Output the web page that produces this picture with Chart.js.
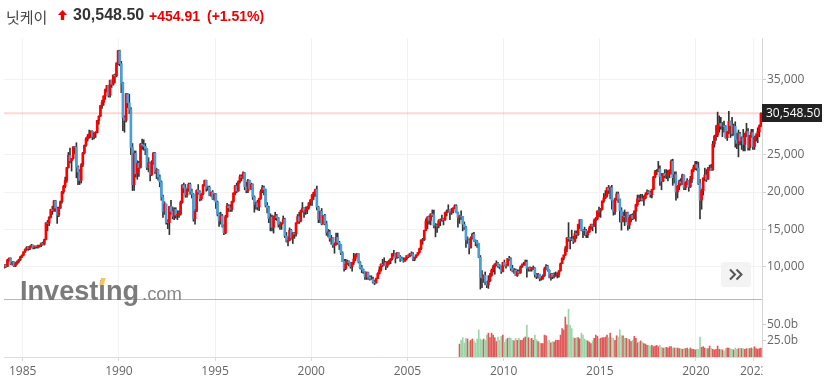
<!DOCTYPE html>
<html><head><meta charset="utf-8">
<script src="https://cdn.jsdelivr.net/npm/chart.js@4.4.1/dist/chart.umd.min.js"></script>
<style>
html,body{margin:0;padding:0;background:#fff;}
#wrap{position:relative;width:829px;height:387px;overflow:hidden;}
#c{position:absolute;left:0;top:0;}
.h{position:absolute;line-height:1;white-space:nowrap;}
</style></head>
<body>
<div id="wrap">
<canvas id="c" width="829" height="387"></canvas>
<div class="h" style="left:6px;top:6px;font:15px 'Noto Sans CJK KR',sans-serif;color:#444">닛케이</div>
<svg style="position:absolute;left:58px;top:10px" width="9" height="10"><polygon points="4.5,0 9,5 6.2,5 6.2,10 2.8,10 2.8,5 0,5" fill="#ee0000"/></svg>
<div class="h" style="left:73px;top:6px;font:bold 16px 'Liberation Sans',Arial,sans-serif;color:#333">30,548.50</div>
<div class="h" style="left:149px;top:8px;font:bold 14px 'Liberation Sans',Arial,sans-serif;color:#e00">+454.91</div>
<div class="h" style="left:207px;top:8px;font:bold 14px 'Liberation Sans',Arial,sans-serif;color:#e00">(+1.51%)</div>
</div>
<script>
// ---- data (monthly, Jan 1984 .. May 2023) ----
const startYear = 1984;
const firstOpen = 9890;
const closes = [
10200,10050,10900,11100,10400,10600,10100,10450,10700,10900,11300,11540,
11990,12320,12580,12430,12680,12880,12600,12740,12700,12750,12830,13110,
13020,13640,15860,15830,16600,17650,17510,18820,17850,16900,17850,18700,
20030,20760,21570,23270,24900,24180,24490,26030,26010,23330,22690,21560,
23620,25240,26260,27100,27420,27770,28100,27370,27920,27990,29580,30160,
31580,32000,32840,33710,34270,32950,34950,34430,35640,35550,37270,38920,
37190,34590,29980,29590,33130,31940,31040,25980,20980,25190,22450,23850,
23290,26410,26290,26110,25790,23290,23900,22340,23920,25220,22690,22980,
22020,21340,19350,17390,18350,15950,15910,18060,17400,16770,17680,16920,
17020,17040,18590,20920,20550,19590,20380,21030,20110,19700,16410,17420,
20230,20000,19110,19730,20970,21550,20450,20630,19560,19990,19080,19720,
18650,17050,16140,16810,15440,14520,16680,18120,17910,17660,18740,19870,
20810,20130,21410,22040,21960,22530,20690,20170,21560,20470,21020,19360,
18330,18560,18000,19150,20070,20610,20330,18230,17890,16460,16640,15260,
16630,16830,16530,15640,15670,15830,16380,14110,13410,13560,14880,13840,
14500,14370,15840,16700,16110,17530,17860,17440,17610,17940,18560,18930,
19540,19960,20340,17970,16330,17410,15730,16860,15750,14540,14650,13790,
13840,12880,13000,13930,13260,12970,11860,10710,9770,10370,10700,10540,
10000,10590,11030,11490,11760,10620,9880,9620,9380,8640,9220,8580,
8340,8360,7970,7830,8420,9080,9560,10340,10220,10560,10100,10680,
10780,11040,11720,11760,11240,11860,11330,11080,10820,10770,11070,11490,
11390,11740,11670,11010,11280,11580,11900,12410,13570,13610,14870,16110,
16650,16210,17060,16910,15470,15510,15460,16140,16130,16400,16270,17230,
17380,17600,17290,17400,17880,18140,17250,16570,16790,16740,15680,15310,
13590,13600,12530,13850,14340,13480,13380,13070,11260,8580,8510,8860,
7990,7570,8110,8830,9520,9960,10360,10490,10130,10030,9350,10550,
10200,10130,11090,11060,9770,9380,9540,8820,9370,9200,9940,10230,
10240,10620,9760,9850,9690,9820,9830,8960,8700,8990,8430,8460,
8800,9720,10080,9520,8540,9010,8700,8840,8870,8930,9450,10400,
11140,11560,12400,13860,13770,13680,13670,13390,14460,14330,15660,16290,
14910,14840,14830,14300,14630,15160,15620,15420,16170,16410,17460,17450,
17670,18800,19210,19520,20560,20240,20590,18890,17390,19080,19750,19030,
17520,16030,16760,16670,17230,15580,16570,16890,16450,17430,18310,19110,
19040,19120,18910,19200,19650,20030,19930,19650,20360,22010,22730,22770,
23100,22070,21450,22470,22200,22300,22550,22870,24120,21920,22350,20010,
20770,21390,21210,22260,20600,21280,21520,20700,21760,22930,23290,23660,
23210,21140,18920,20190,21880,22290,21710,23140,23190,22980,26430,27440,
27660,28970,29180,28810,28860,28790,27280,28090,29450,28890,27820,28790,
27000,26530,27820,26850,27280,26390,27800,28090,25940,27590,27970,26090,
27330,27450,28040,28860,30548.5
];
const highs = [
10300,10300,11000,11200,11200,10700,10700,10600,10800,11000,11400,11600,
12000,12400,12700,12700,12800,13000,12900,12800,12800,12900,12900,13200,
13300,13700,15900,16200,16700,17700,18100,18900,18900,18000,18000,18800,
20100,20900,22000,23300,25300,25900,24500,26100,26100,26600,23500,23000,
23800,25300,26300,27300,27700,28300,28200,28200,28000,28100,29600,30200,
31600,32300,32900,33800,34300,34300,35000,35000,35700,35800,37300,38960,
39000,37500,34700,30200,33200,33200,33100,31300,26500,25500,25500,24200,
24100,26500,27100,27000,26500,25800,24600,24000,24200,25300,25300,23200,
23000,22300,21500,19600,18700,18400,16300,18100,18900,18000,17900,17900,
17500,17500,18800,21000,21200,21000,20500,21200,21200,20400,19800,17700,
20300,21000,20200,19800,21000,21600,21600,20800,20800,20000,20200,19800,
19800,18800,17200,17300,17000,15600,16900,18500,18300,18300,18800,19900,
20900,21200,21500,22300,22300,22700,22600,21300,21700,21600,21200,21100,
19500,18700,18900,19200,20300,20900,20800,20400,18600,18100,17100,16900,
16800,17300,17000,16600,16000,15900,16800,16500,14600,14000,15200,15000,
14600,14600,15900,17000,17300,17600,18600,17900,18000,18100,18600,19000,
19700,20000,20400,20800,18100,17500,17800,16900,17000,16100,15000,14900,
14200,13900,13200,14500,14500,13400,13000,12000,11000,11000,10900,10800,
10600,10600,11800,11700,11800,11700,10700,10200,9700,9400,9300,9300,
8800,8800,8600,8200,8500,9200,10000,10400,11000,11200,10700,10700,
10900,11100,11800,12200,11800,11900,11900,11500,11300,11200,11200,11500,
11600,11800,12000,11900,11300,11600,11900,12500,13600,13800,14900,16400,
16700,16800,17100,17600,17600,15800,15700,16300,16400,16900,16500,17300,
17600,18300,17600,17800,17900,18300,18300,17300,16900,17500,16700,16000,
15400,14000,13700,14000,14500,14600,13600,13500,13100,11500,9500,8900,
9300,8000,8800,9100,9700,10200,10400,10800,10600,10300,10100,10600,
10900,10300,11100,11400,11200,10200,9800,9700,9600,9600,10100,10400,
10600,10900,10900,9900,10000,9900,10100,9900,9100,9100,9000,8700,
8900,9900,10300,10200,9600,9100,9100,9200,9300,9200,9500,10500,
11200,11600,12700,13900,15900,13900,14900,14100,14800,14800,15700,16300,
16300,15000,15300,15000,14800,15400,15700,15700,16400,16600,17500,18000,
17800,18800,19800,20200,20600,20900,20700,20900,18900,19200,20000,20000,
19100,17900,17300,17600,17300,17300,16900,17000,17100,17500,18400,19600,
19600,19700,19700,19500,19900,20300,20200,20100,20400,22100,22900,23000,
24100,23500,22500,22500,23000,23000,22900,23000,24300,24400,22700,22700,
20900,21600,21800,22400,22300,21400,21800,21500,22100,23000,23600,24100,
24100,24000,21700,20400,21900,23200,23000,23300,23600,23700,26800,27600,
28900,30700,30200,30000,29300,29500,28900,28100,30800,29500,30000,29100,
29400,27900,28300,28000,27400,28400,27900,29200,28500,27600,28400,28400,
27500,27800,28600,29000,30600
];
const lows = [
9800,9900,10000,10700,10300,10200,10000,10000,10300,10500,10800,11200,
11500,11900,12200,12200,12300,12600,12400,12400,12500,12500,12600,12700,
12900,12900,13600,14800,15500,16500,17000,17400,17400,15800,16700,17800,
18500,19800,20600,21300,23200,23900,22800,24400,25100,21900,21000,21000,
21200,23400,25100,26100,26800,27200,27300,27000,27100,27300,27900,29100,
30100,31200,31600,32400,33400,32700,32700,34000,34300,34600,35400,37000,
36900,33300,28200,28000,29400,31300,30500,25000,20200,20200,22000,21700,
22100,23200,25700,25600,25000,23000,22700,21500,22200,23700,22500,21800,
21600,20700,18900,16600,17000,15700,15100,14300,17000,16400,16300,16500,
16300,16600,16900,18500,19900,19300,19300,20100,19700,19200,16100,15700,
17400,19700,18800,18900,19600,20800,20100,20200,19500,19400,19000,18900,
17800,16800,15400,15700,15300,14300,14400,16600,17400,17400,17400,18600,
19600,19900,20100,21200,21500,21800,20300,19900,19900,20400,20300,19000,
17300,17700,17600,17500,19000,19900,19600,18000,17200,15900,14800,14800,
14500,16300,16200,15300,15000,15000,15800,13900,13300,12800,13500,13700,
13100,13800,14100,15800,15800,16000,17300,16600,17000,17100,17700,18200,
18200,19000,19400,17600,15900,15900,15600,15700,15600,14200,14000,13400,
13000,12600,11800,12900,13000,12300,11600,10700,9400,9600,10300,10100,
9800,9400,10300,10800,11300,10500,9700,9200,9100,8300,8300,8300,
8200,8300,7800,7600,7800,8400,9000,9400,10000,10200,9600,9900,
10300,10400,10900,11400,10500,11100,11200,10700,10800,10600,10700,10900,
11200,11300,11500,10800,10800,11200,11500,11800,12300,13000,13500,14800,
15100,15700,15600,16700,15200,14000,14600,15200,15500,16100,15600,16200,
16800,17300,16300,17000,17200,17800,17200,15300,15800,16300,14800,15000,
12600,13100,11700,12500,13700,13400,12800,12600,11200,7000,7200,7900,
7600,7200,7100,8000,8700,9300,9000,10100,9900,9700,9100,9300,
10100,9800,10100,10800,9500,9300,9100,8800,8700,9100,9100,9900,
10200,10200,8600,9400,9400,9400,9600,8600,8400,8500,8100,8200,
8300,8700,9600,9400,8500,8200,8400,8500,8700,8500,8600,9400,
10400,10900,11500,12000,13400,12400,13500,13100,13300,13800,14200,15100,
14800,13900,14200,13900,13900,14600,15000,14800,15400,14500,16300,16700,
16600,17600,18600,19100,19300,19800,19100,17700,16900,17000,18900,18600,
16000,14900,16000,15500,16000,14900,15100,16000,16300,16400,16100,18100,
18700,18800,18800,18200,19100,19600,19800,19300,19200,20300,21900,22300,
22700,20900,20300,21400,21900,21800,21500,21900,22400,20900,21200,18900,
19200,20300,20900,21000,20300,20300,21000,20100,20600,21300,22700,23000,
22900,21000,16400,17700,19600,21500,21400,21700,22900,22900,22900,26000,
26900,27400,28000,28400,27400,28000,27200,26900,27800,27300,27500,27600,
26000,25800,24700,26300,25700,25500,25500,27400,25600,25600,27300,25700,
25700,26800,26600,27400,28700
];
// monthly volume in billions, Sep 2007 .. May 2023
const volStartIndex = 284;
const volumes = [
20,26,30,22,
29,28,24,26,28,25,22,28,42,28,26,28,
26,34,37,30,37,34,30,24,31,26,32,34,
23,27,29,30,29,26,25,29,26,29,26,26,
29,31,49,30,28,29,26,34,27,24,22,21,
21,34,33,25,26,22,24,23,26,26,26,34,
44,42,62,50,74,49,44,30,29,30,30,28,
37,34,28,26,25,23,21,25,29,34,32,28,
29,30,30,31,34,30,37,30,29,26,33,31,
42,33,33,29,29,28,27,24,26,32,29,22,
23,25,23,21,20,18,18,17,18,16,17,18,
16,18,15,14,14,15,14,16,16,14,14,14,
14,13,13,12,13,13,14,12,14,12,12,11,
12,12,31,15,16,14,13,13,17,14,12,11,
12,17,12,12,11,9,13,14,14,13,12,11,
14,12,13,14,13,13,12,13,13,13,14,13,
16,13,12,13,14
];
const priceTicks = [10000,15000,20000,25000,35000];
const volTicks = [25,50];
const yearTicks = [1985,1990,1995,2000,2005,2010,2015,2020,2023];
const lastPrice = 30548.50;
const lastPriceLabel = '30,548.50';

// ---- build ----
const UP='#ff0000', DOWN='#4a9fd9', WICK='#333333', VUP='#e05858', VDOWN='#9dd5a9';
const monthX = closes.map((_, i) => startYear + (i + 0.5) / 12);
const opens = closes.map((c, i) => i === 0 ? firstOpen : closes[i - 1]);
const bodyData = closes.map((c, i) => ({x: monthX[i], y: [opens[i], c]}));
const bodyColors = closes.map((c, i) => c >= opens[i] ? UP : DOWN);
const wickData = closes.map((c, i) => ({x: monthX[i], y: [Math.min(lows[i], opens[i], c), Math.max(highs[i], opens[i], c)]}));
const volData = volumes.map((v, i) => ({x: monthX[volStartIndex + i], y: v}));
const volColors = volumes.map((v, i) => { const k = volStartIndex + i; return closes[k] >= opens[k] ? VUP : VDOWN; });

const tickFont = {family: '"Open Sans", sans-serif', size: 12};

const overlay = {
  id: 'overlay',
  beforeDatasetsDraw(chart) {
    const {ctx, chartArea, scales} = chart;
    const y = scales.y.getPixelForValue(lastPrice);
    ctx.save();
    ctx.strokeStyle = 'rgba(255,140,140,0.35)';
    ctx.lineWidth = 2;
    ctx.beginPath(); ctx.moveTo(chartArea.left, y); ctx.lineTo(chartArea.right, y); ctx.stroke();
    ctx.restore();
  },
  afterDatasetsDraw(chart) {
    const {ctx, chartArea, scales} = chart;
    ctx.save();
    const sy = Math.round(scales.y.bottom) + 0.5;
    ctx.strokeStyle = '#b8b8b8'; ctx.lineWidth = 1;
    ctx.beginPath(); ctx.moveTo(chartArea.left, sy); ctx.lineTo(chartArea.right, sy); ctx.stroke();
    // logo
    ctx.globalAlpha = 0.9;
    ctx.fillStyle = '#6d6d6d';
    ctx.font = 'bold 28px "Liberation Sans", Arial, sans-serif';
    ctx.textBaseline = 'alphabetic'; ctx.textAlign = 'left';
    const word = 'Investing';
    const full = ctx.measureText(word).width;
    const k = Math.min(1, 119 / full);
    ctx.fillText(word, 20, 300, 119);
    const ix = 20 + ctx.measureText('Invest').width * k;
    const iw = ctx.measureText('i').width * k;
    ctx.font = '19px "Liberation Sans", Arial, sans-serif';
    ctx.fillStyle = '#7a7a7a';
    ctx.fillText('.com', 142, 300, 40);
    ctx.globalAlpha = 1;
    ctx.fillStyle = '#f8c266';
    const cx = ix + iw / 2;
    ctx.beginPath(); ctx.moveTo(cx - 3, 285); ctx.lineTo(cx - 1, 278); ctx.lineTo(cx + 3.5, 278); ctx.lineTo(cx + 1.5, 285); ctx.closePath(); ctx.fill();
    // ">>" button
    ctx.fillStyle = '#f3f3f3';
    ctx.beginPath();
    if (ctx.roundRect) ctx.roundRect(721, 262, 30, 25, 3); else ctx.rect(721, 262, 30, 25);
    ctx.fill();
    ctx.strokeStyle = '#555'; ctx.lineWidth = 2;
    ctx.beginPath();
    ctx.moveTo(730, 269.5); ctx.lineTo(735, 274.5); ctx.lineTo(730, 279.5);
    ctx.moveTo(736.5, 269.5); ctx.lineTo(741.5, 274.5); ctx.lineTo(736.5, 279.5);
    ctx.stroke();
    ctx.restore();
  },
  afterDraw(chart) {
    const {ctx, chartArea, scales} = chart;
    ctx.save();
    ctx.fillStyle = '#fff';
    ctx.fillRect(chartArea.right + 0.5, chartArea.bottom + 5, 80, 40);
    const y = scales.y.getPixelForValue(lastPrice);
    ctx.fillStyle = '#222';
    ctx.fillRect(chartArea.right, Math.round(y) - 9, 60, 18);
    ctx.fillStyle = '#fff';
    ctx.font = '12px "Open Sans", sans-serif';
    ctx.textBaseline = 'middle'; ctx.textAlign = 'left';
    ctx.fillText(lastPriceLabel, chartArea.right + 4, Math.round(y) + 0.5);
    ctx.restore();
  }
};

new Chart(document.getElementById('c'), {
  type: 'bar',
  data: {
    datasets: [
      {label: 'body', data: bodyData, backgroundColor: bodyColors, barThickness: 2, yAxisID: 'y', order: 0},
      {label: 'wick', data: wickData, backgroundColor: WICK, barThickness: 1, yAxisID: 'y', order: 2},
      {label: 'volume', data: volData, backgroundColor: volColors, barThickness: 1, yAxisID: 'yv', order: 1}
    ]
  },
  options: {
    responsive: false,
    animation: false,
    events: [],
    layout: {padding: {left: 4, top: 38, right: 0, bottom: 0}},
    plugins: {legend: {display: false}, tooltip: {enabled: false}},
    datasets: {bar: {grouped: false, borderWidth: 0}},
    scales: {
      x: {
        type: 'linear', min: 1984.028, max: 2023.432, offset: false,
        afterBuildTicks: s => { s.ticks = yearTicks.map(v => ({value: v})); },
        afterFit: s => { s.height = 30; },
        ticks: {autoSkip: false, maxRotation: 0, padding: 3, color: '#666', font: tickFont, callback: v => String(v)},
        grid: {offset: false, color: '#f2f2f2', tickColor: '#dadae2', tickLength: 4},
        border: {color: '#dcdce6'}
      },
      y: {
        position: 'right', stack: 'p', stackWeight: 261,
        min: 5680, max: 40620,
        afterBuildTicks: s => { s.ticks = priceTicks.map(v => ({value: v})); },
        afterFit: s => { s.width = 67; },
        ticks: {padding: 1, color: '#666', font: tickFont, callback: v => v.toLocaleString('en-US')},
        grid: {color: '#f2f2f2', tickColor: '#cfcfcf', tickLength: 4},
        border: {color: '#d6d6d6'}
      },
      yv: {
        position: 'right', stack: 'p', stackWeight: 58,
        min: 0, max: 90,
        afterBuildTicks: s => { s.ticks = volTicks.map(v => ({value: v})); },
        afterFit: s => { s.width = 67; },
        ticks: {padding: 1, color: '#666', font: tickFont, callback: v => v.toFixed(1) + 'b'},
        grid: {drawOnChartArea: false, tickColor: '#cfcfcf', tickLength: 4},
        border: {color: '#d6d6d6'}
      }
    }
  },
  plugins: [overlay]
});
</script>
</body></html>
